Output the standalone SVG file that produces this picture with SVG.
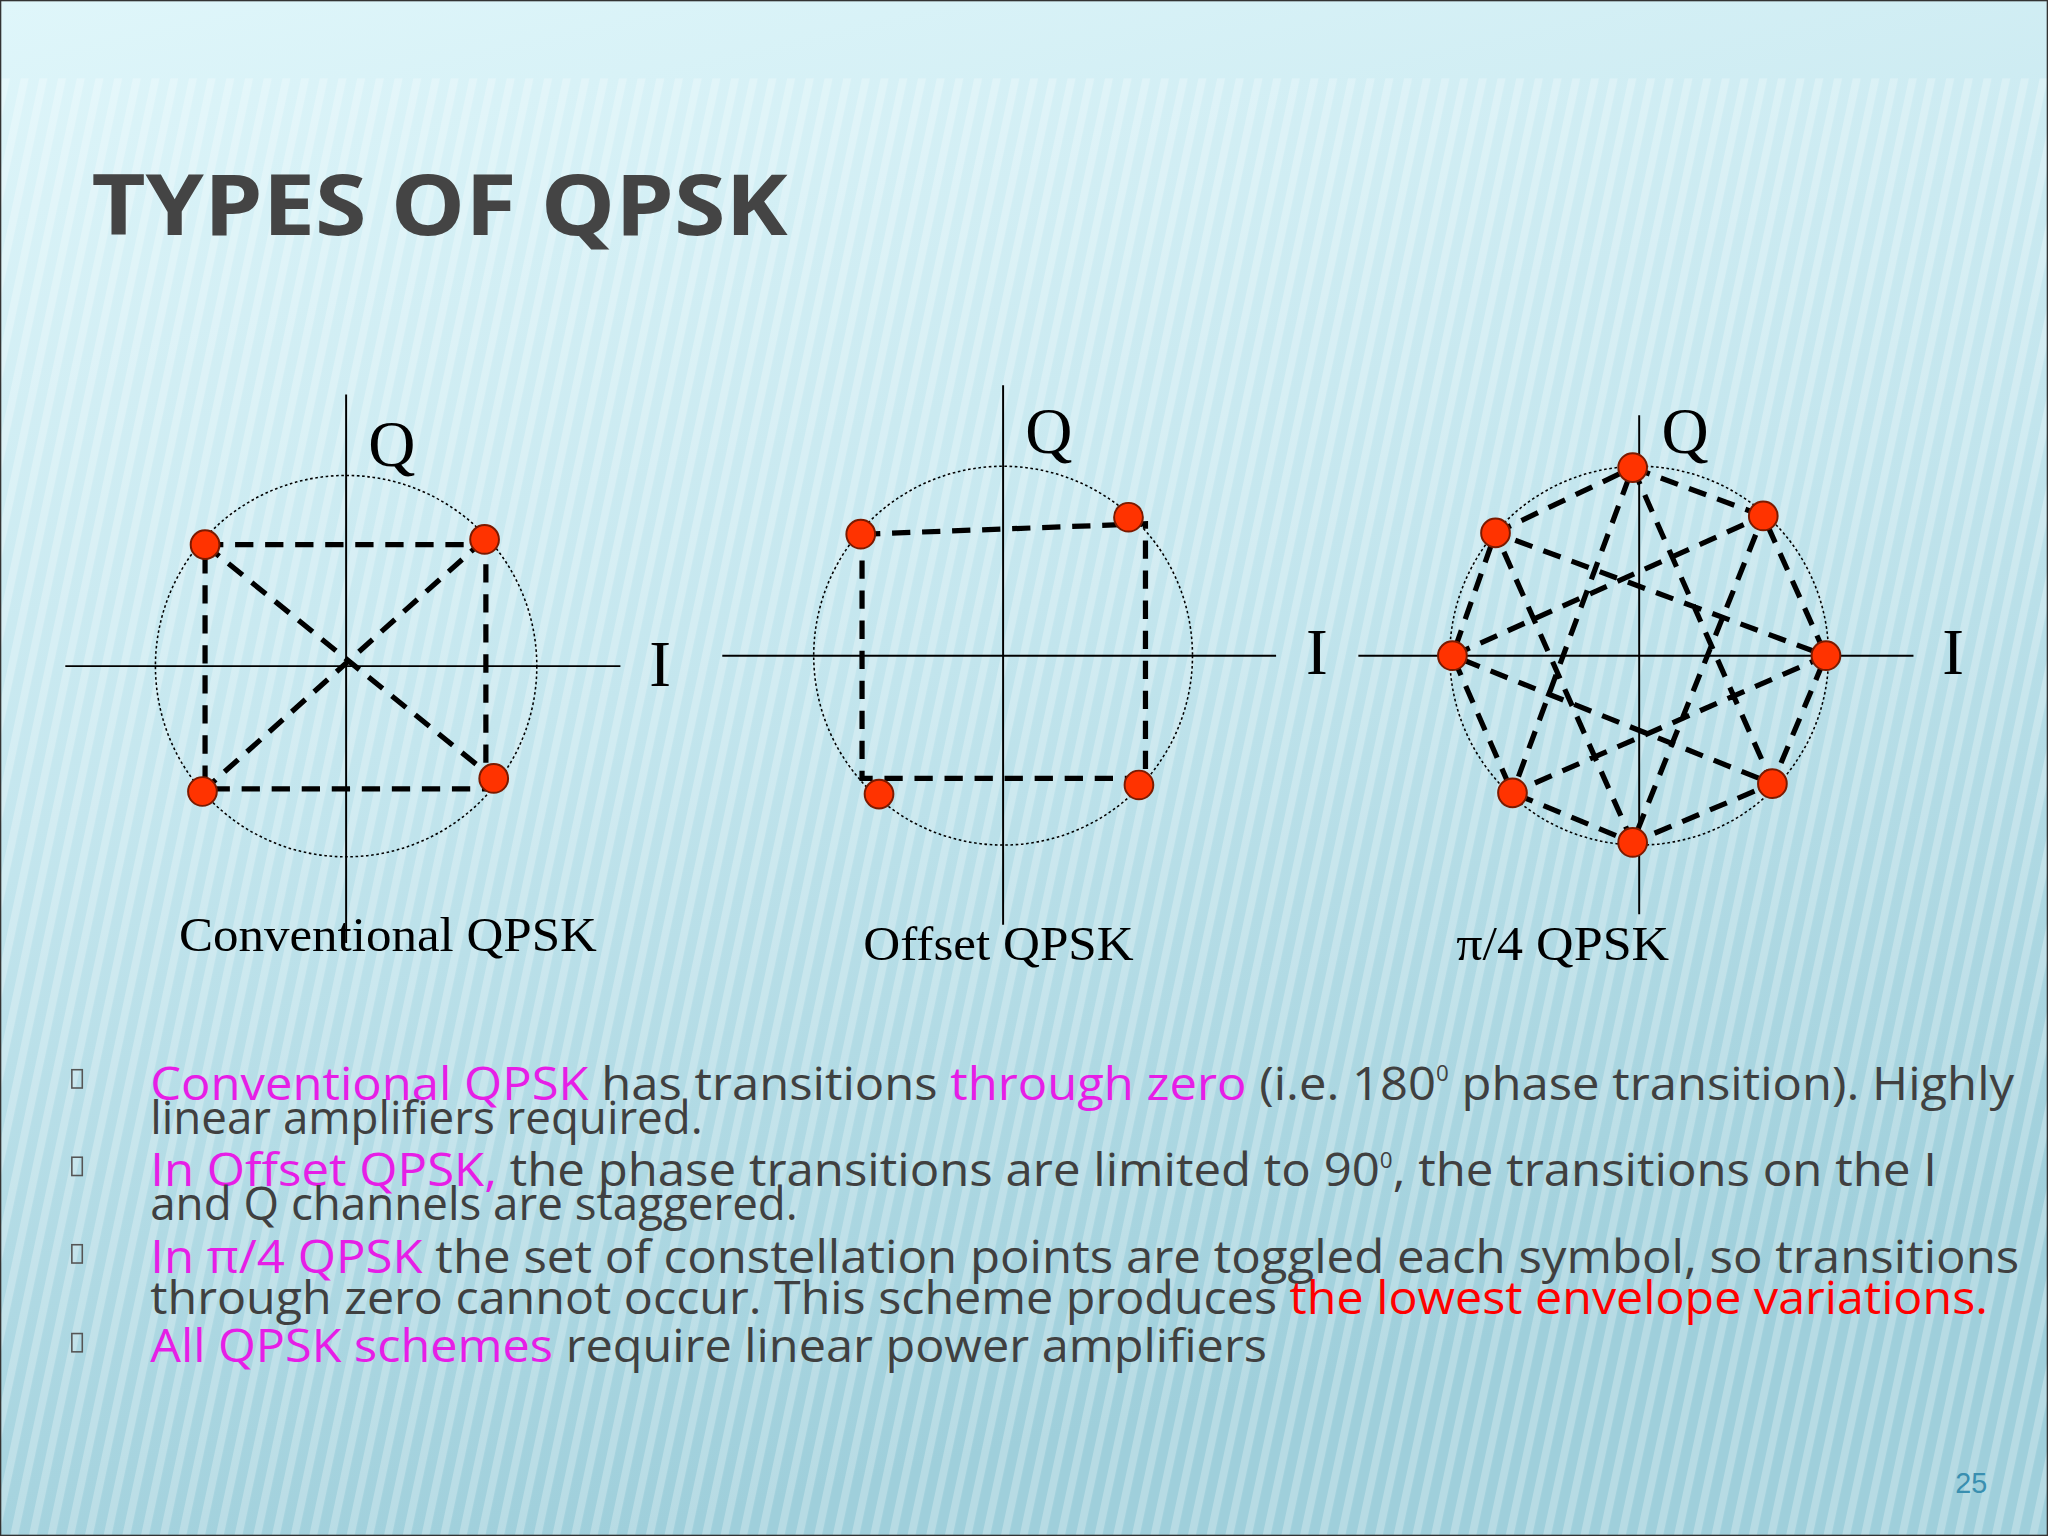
<svg xmlns="http://www.w3.org/2000/svg" width="2048" height="1536" viewBox="0 0 2048 1536">
<style>
.ax{stroke:#000;stroke-width:1.5;fill:none}
.cir{stroke:#000;stroke-width:1.2;fill:none;stroke-dasharray:2 2}
.dash{stroke:#000;stroke-width:4;fill:none;stroke-dasharray:14 9}
.pt{fill:#ff3300;stroke:#7a1a00;stroke-width:1.5}
.lbl{font-family:"Liberation Serif",serif;fill:#000}
.b{font-family:"Open Sans","Liberation Sans",sans-serif;font-size:35px;fill:#404040}
.m{fill:#e61ee6}
.r{fill:#ff0000}
.bx{fill:none;stroke:#555;stroke-width:1.2}
</style>
<defs>
<linearGradient id="bg" x1="0" y1="0" x2="0.3" y2="1">
<stop offset="0" stop-color="#dff6fa"/><stop offset="0.5" stop-color="#c4e6ee"/><stop offset="1" stop-color="#9fcfdb"/>
</linearGradient>
<pattern id="st" width="14" height="60" patternUnits="userSpaceOnUse" patternTransform="rotate(12)">
<rect width="6" height="60" fill="#ffffff" opacity="0.25"/>
</pattern>
</defs>
<g transform="scale(1.30612)">
<rect width="1568" height="1176" fill="url(#bg)"/>
<rect y="60" width="1568" height="1116" fill="url(#st)"/>
<rect x="0.5" y="0.5" width="1567" height="1175" fill="none" stroke="#333" stroke-width="1"/>
<text x="70" y="180" font-family="'Open Sans','Liberation Sans',sans-serif" font-weight="bold" font-size="64" fill="#444" textLength="533" lengthAdjust="spacingAndGlyphs">TYPES OF QPSK</text>

<g id="conventional">
<line class="ax" x1="50" y1="510" x2="475" y2="510"/><line class="ax" x1="265" y1="302" x2="265" y2="722"/>
<circle class="cir" cx="265" cy="510" r="146"/>
<path class="dash" d="M157,417H372V604H157Z M157,417L378,596 M371,413L155,606"/>
<circle class="pt" cx="157" cy="417" r="11"/><circle class="pt" cx="371" cy="413" r="11"/><circle class="pt" cx="155" cy="606" r="11"/><circle class="pt" cx="378" cy="596" r="11"/>
<text class="lbl" x="282" y="357" font-size="50">Q</text><text class="lbl" x="497" y="525" font-size="50">I</text>
<text class="lbl" x="137" y="728" font-size="37" textLength="320" lengthAdjust="spacingAndGlyphs">Conventional QPSK</text>
</g>
<g id="offset">
<line class="ax" x1="553" y1="502" x2="977" y2="502"/><line class="ax" x1="768" y1="295" x2="768" y2="708"/>
<circle class="cir" cx="768" cy="502" r="145"/>
<path class="dash" d="M660,409L877,401V596H660Z"/>
<circle class="pt" cx="659" cy="409" r="11"/><circle class="pt" cx="864" cy="396" r="11"/><circle class="pt" cx="673" cy="608" r="11"/><circle class="pt" cx="872" cy="601" r="11"/>
<text class="lbl" x="785" y="347" font-size="50">Q</text><text class="lbl" x="1000" y="516" font-size="50">I</text>
<text class="lbl" x="661" y="735" font-size="37" textLength="207" lengthAdjust="spacingAndGlyphs">Offset QPSK</text>
</g>
<g id="pi4">
<line class="ax" x1="1040" y1="502" x2="1465" y2="502"/><line class="ax" x1="1255" y1="318" x2="1255" y2="700"/>
<circle class="cir" cx="1255" cy="502" r="145"/>
<path class="dash" d="M1250,358L1350,395L1398,502L1357,600L1250,645L1158,607L1112,502L1145,408Z M1250,358L1357,600L1112,502L1350,395L1250,645L1145,408L1398,502L1158,607Z"/>
<circle class="pt" cx="1250" cy="358" r="11"/><circle class="pt" cx="1350" cy="395" r="11"/><circle class="pt" cx="1398" cy="502" r="11"/><circle class="pt" cx="1357" cy="600" r="11"/>
<circle class="pt" cx="1250" cy="645" r="11"/><circle class="pt" cx="1158" cy="607" r="11"/><circle class="pt" cx="1112" cy="502" r="11"/><circle class="pt" cx="1145" cy="408" r="11"/>
<text class="lbl" x="1272" y="347" font-size="50">Q</text><text class="lbl" x="1487" y="516" font-size="50">I</text>
<text class="lbl" x="1115" y="735" font-size="37" textLength="163" lengthAdjust="spacingAndGlyphs">π/4 QPSK</text>
</g>

<rect class="bx" x="55" y="819" width="8" height="14"/><rect class="bx" x="55" y="886" width="8" height="14"/><rect class="bx" x="55" y="953" width="8" height="14"/><rect class="bx" x="55" y="1021" width="8" height="14"/>
<text class="b" x="115" y="842" textLength="1427" lengthAdjust="spacingAndGlyphs"><tspan class="m">Conventional QPSK</tspan> has transitions <tspan class="m">through zero</tspan> (i.e. 180<tspan font-size="16" dy="-14">0</tspan><tspan dy="14"> phase transition). Highly</tspan></text>
<text class="b" x="115" y="868">linear amplifiers required.</text>
<text class="b" x="115" y="908" textLength="1368" lengthAdjust="spacingAndGlyphs"><tspan class="m">In Offset QPSK,</tspan> the phase transitions are limited to 90<tspan font-size="16" dy="-14">0</tspan><tspan dy="14">, the transitions on the I</tspan></text>
<text class="b" x="115" y="934">and Q channels are staggered.</text>
<text class="b" x="115" y="975" textLength="1431" lengthAdjust="spacingAndGlyphs"><tspan class="m">In π/4 QPSK</tspan> the set of constellation points are toggled each symbol, so transitions</text>
<text class="b" x="115" y="1006" textLength="1407" lengthAdjust="spacingAndGlyphs">through zero cannot occur. This scheme produces <tspan class="r">the lowest envelope variations.</tspan></text>
<text class="b" x="115" y="1043" textLength="855" lengthAdjust="spacingAndGlyphs"><tspan class="m">All QPSK schemes</tspan> require linear power amplifiers</text>
<text x="1497" y="1143" font-family="'Liberation Sans',sans-serif" font-size="22" fill="#3a8fb0">25</text>
</g>
</svg>
